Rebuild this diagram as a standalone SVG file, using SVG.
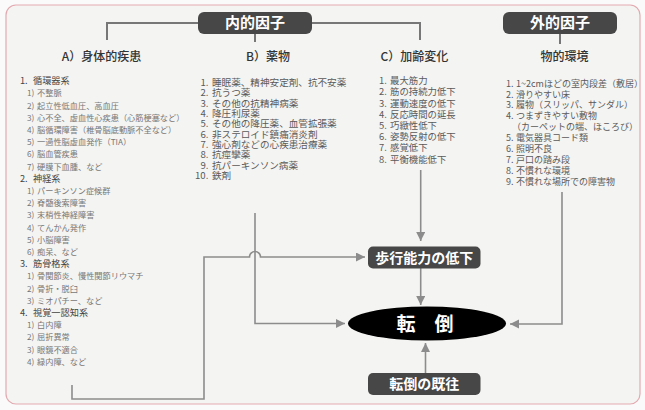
<svg xmlns="http://www.w3.org/2000/svg" width="645" height="410" viewBox="0 0 645 410">
<style>
text{font-family:"Noto Sans CJK JP","Noto Sans CJK SC",sans-serif}
.h{font-size:12px;fill:#333;font-weight:500;text-anchor:middle}
.t{font-size:15px;fill:#fff;font-weight:700;text-anchor:middle}
.bx{font-size:14px;fill:#fff;font-weight:700;text-anchor:middle}
.a1{font-size:9.2px;fill:#444}
.a2{font-size:8.2px;fill:#777}
.b{font-size:9.6px;fill:#5a5a5a}
.c{font-size:9.4px;fill:#5a5a5a}
.d{font-size:9px;fill:#5a5a5a}
.box{fill:#474747}
.top{fill:none;stroke:#777;stroke-width:2}
.ln{fill:none;stroke:#8c8c8c;stroke-width:1.6}
</style>
<defs>
<marker id="ar" markerUnits="userSpaceOnUse" markerWidth="10" markerHeight="10" refX="9" refY="4.5" orient="auto">
<path d="M0,0 L9,4.5 L0,9 z" fill="#8c8c8c"/>
</marker>
</defs>
<rect x="0" y="0" width="645" height="410" fill="#fafafa"/>
<rect x="6" y="5" width="634" height="399" rx="10" fill="#f4f4f2" stroke="#e3a9b0" stroke-width="1.2"/>

<g id="connectors">
<path class="top" d="M107,40 V23 H198 M312,23 H420 V40 M255,34 V42 M560,34 V44"/>
<path class="ln" d="M420.7,170 V241" marker-end="url(#ar)"/>
<path class="ln" d="M420.7,268 V305" marker-end="url(#ar)"/>
<path class="ln" d="M255,213 V323.5 H345" marker-end="url(#ar)"/>
<path class="ln" d="M72,385 V399 H204 V257 H249.5 A5.5,5.5 0 0 1 260.5,257 H365" marker-end="url(#ar)"/>
<path class="ln" d="M562,192 V324 H510" marker-end="url(#ar)"/>
<path class="ln" d="M425.5,373 V343" marker-end="url(#ar)"/>
</g>

<g id="naiteki">
<rect class="box" x="198" y="12" width="114" height="22" rx="6"/>
<text class="t" x="255" y="28.4">内的因子</text>
</g>
<g id="gaiteki">
<rect class="box" x="503" y="12" width="114" height="22" rx="6"/>
<text class="t" x="560" y="28.4">外的因子</text>
</g>

<g id="colA">
<text class="h" x="101.5" y="61">A）身体的疾患</text>
<text class="a1" x="20" y="84.2">1.<tspan x="33">循環器系</tspan></text>
<text class="a2" x="27" y="96.4">1)<tspan x="37">不整脈</tspan></text>
<text class="a2" x="27" y="108.6">2)<tspan x="37">起立性低血圧、高血圧</tspan></text>
<text class="a2" x="27" y="120.8">3)<tspan x="37">心不全、虚血性心疾患（心筋梗塞など）</tspan></text>
<text class="a2" x="27" y="133">4)<tspan x="37">脳循環障害（椎骨脳底動脈不全など）</tspan></text>
<text class="a2" x="27" y="145.2">5)<tspan x="37">一過性脳虚血発作（TIA）</tspan></text>
<text class="a2" x="27" y="157.4">6)<tspan x="37">脳血管疾患</tspan></text>
<text class="a2" x="27" y="169.6">7)<tspan x="37">硬膜下血腫、など</tspan></text>
<text class="a1" x="20" y="181.8">2.<tspan x="33">神経系</tspan></text>
<text class="a2" x="27" y="194">1)<tspan x="37">パーキンソン症候群</tspan></text>
<text class="a2" x="27" y="206.2">2)<tspan x="37">脊髄後索障害</tspan></text>
<text class="a2" x="27" y="218.4">3)<tspan x="37">末梢性神経障害</tspan></text>
<text class="a2" x="27" y="230.6">4)<tspan x="37">てんかん発作</tspan></text>
<text class="a2" x="27" y="242.8">5)<tspan x="37">小脳障害</tspan></text>
<text class="a2" x="27" y="255">6)<tspan x="37">痴呆、など</tspan></text>
<text class="a1" x="20" y="267.2">3.<tspan x="33">筋骨格系</tspan></text>
<text class="a2" x="27" y="279.4">1)<tspan x="37">骨関節炎、慢性関節リウマチ</tspan></text>
<text class="a2" x="27" y="291.6">2)<tspan x="37">骨折・脱臼</tspan></text>
<text class="a2" x="27" y="303.8">3)<tspan x="37">ミオパチー、など</tspan></text>
<text class="a1" x="20" y="316">4.<tspan x="33">視覚一認知系</tspan></text>
<text class="a2" x="27" y="328.2">1)<tspan x="37">白内障</tspan></text>
<text class="a2" x="27" y="340.4">2)<tspan x="37">屈折異常</tspan></text>
<text class="a2" x="27" y="352.6">3)<tspan x="37">眼鏡不適合</tspan></text>
<text class="a2" x="27" y="364.8">4)<tspan x="37">緑内障、など</tspan></text>
</g>

<g id="colB">
<text class="h" x="268" y="61">B）薬物</text>
<text class="b" x="200.5" y="86.1">1.<tspan x="212">睡眠薬、精神安定剤、抗不安薬</tspan></text>
<text class="b" x="200.5" y="96.4">2.<tspan x="212">抗うつ薬</tspan></text>
<text class="b" x="200.5" y="106.7">3.<tspan x="212">その他の抗精神病薬</tspan></text>
<text class="b" x="200.5" y="117">4.<tspan x="212">降圧利尿薬</tspan></text>
<text class="b" x="200.5" y="127.3">5.<tspan x="212">その他の降圧薬、血管拡張薬</tspan></text>
<text class="b" x="200.5" y="137.6">6.<tspan x="212">非ステロイド鎮痛消炎剤</tspan></text>
<text class="b" x="200.5" y="147.9">7.<tspan x="212">強心剤などの心疾患治療薬</tspan></text>
<text class="b" x="200.5" y="158.2">8.<tspan x="212">抗痙攣薬</tspan></text>
<text class="b" x="200.5" y="168.5">9.<tspan x="212">抗パーキンソン病薬</tspan></text>
<text class="b" x="195" y="178.8">10.<tspan x="212">鉄剤</tspan></text>
</g>

<g id="colC">
<text class="h" x="414.5" y="61">C）加齢変化</text>
<text class="c" x="379" y="84.2">1.<tspan x="390">最大筋力</tspan></text>
<text class="c" x="379" y="95.4">2.<tspan x="390">筋の持続力低下</tspan></text>
<text class="c" x="379" y="106.6">3.<tspan x="390">運動速度の低下</tspan></text>
<text class="c" x="379" y="117.8">4.<tspan x="390">反応時間の延長</tspan></text>
<text class="c" x="379" y="129">5.<tspan x="390">巧緻性低下</tspan></text>
<text class="c" x="379" y="140.2">6.<tspan x="390">姿勢反射の低下</tspan></text>
<text class="c" x="379" y="151.4">7.<tspan x="390">感覚低下</tspan></text>
<text class="c" x="379" y="162.6">8.<tspan x="390">平衡機能低下</tspan></text>
</g>

<g id="colD">
<text class="h" x="564.5" y="61">物的環境</text>
<text class="d" x="506" y="86.6">1.<tspan x="516">1~2cmほどの室内段差（敷居）</tspan></text>
<text class="d" x="506" y="97.5">2.<tspan x="516">滑りやすい床</tspan></text>
<text class="d" x="506" y="108.4">3.<tspan x="516">履物（スリッパ、サンダル）</tspan></text>
<text class="d" x="506" y="119.3">4.<tspan x="516">つまずきやすい敷物</tspan></text>
<text class="d" x="512" y="130.2">（カーペットの端、ほころび）</text>
<text class="d" x="506" y="141.1">5.<tspan x="516">電気器具コード類</tspan></text>
<text class="d" x="506" y="152">6.<tspan x="516">照明不良</tspan></text>
<text class="d" x="506" y="162.9">7.<tspan x="516">戸口の踏み段</tspan></text>
<text class="d" x="506" y="173.8">8.<tspan x="516">不慣れな環境</tspan></text>
<text class="d" x="506" y="184.7">9.<tspan x="516">不慣れな場所での障害物</tspan></text>
</g>

<g id="hoko">
<rect class="box" x="368" y="246.5" width="112.5" height="22" rx="5"/>
<text class="bx" x="424.2" y="262.5">歩行能力の低下</text>
</g>
<g id="tentou">
<ellipse cx="427" cy="323.5" rx="79" ry="17" fill="#000"/>
<text x="425" y="330.5" style="font-size:19px;fill:#fff;font-weight:700;text-anchor:middle">転　倒</text>
</g>
<g id="kiou">
<rect class="box" x="368" y="373" width="112.5" height="22" rx="5"/>
<text class="bx" x="424.2" y="389">転倒の既往</text>
</g>
</svg>
